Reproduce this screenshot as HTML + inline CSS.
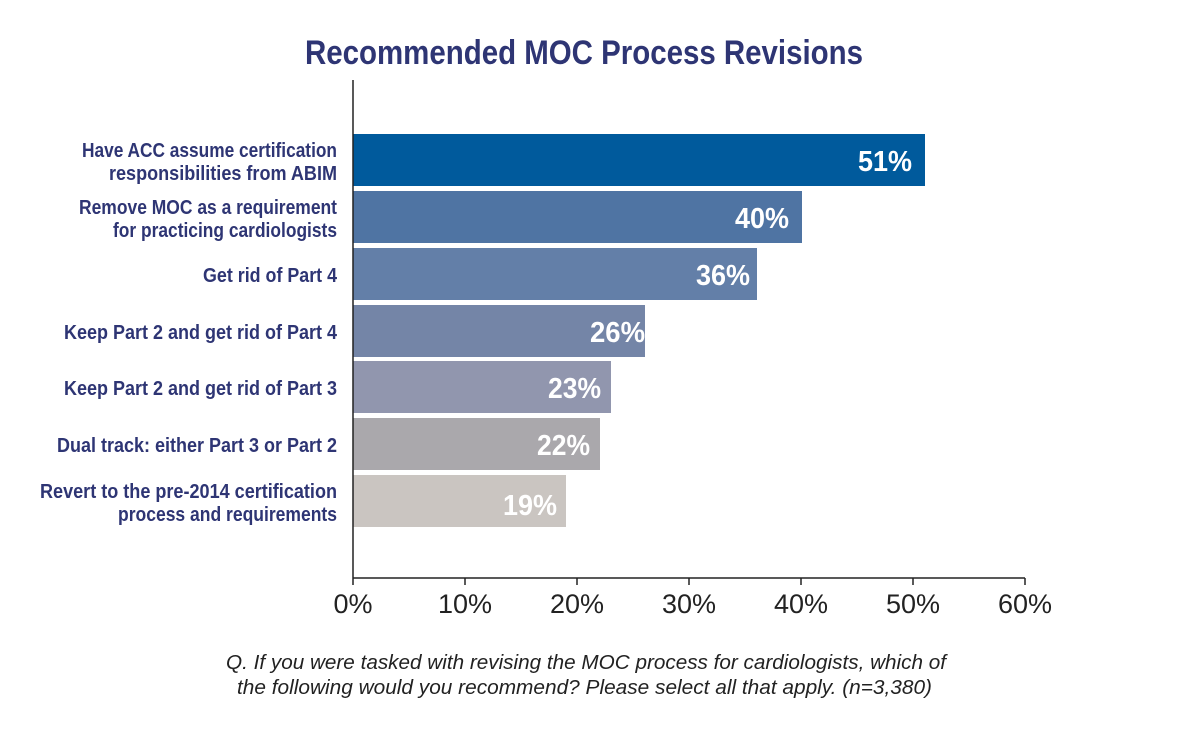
<!DOCTYPE html>
<html><head><style>
body{margin:0;background:#fff;}
svg{display:block;}
.n{font-family:"Liberation Sans",sans-serif;font-weight:bold;}
</style></head><body>
<svg width="1178" height="733" xmlns="http://www.w3.org/2000/svg">
<text class="n" x="305" y="64" font-size="34" fill="#2e3574" textLength="558" lengthAdjust="spacingAndGlyphs">Recommended MOC Process Revisions</text>
<g>
<rect x="353" y="134" width="572" height="52" fill="#005a9c"/>
<rect x="353" y="191" width="449" height="52" fill="#4f74a3"/>
<rect x="353" y="248" width="404" height="52" fill="#637fa8"/>
<rect x="353" y="305" width="292" height="52" fill="#7485a7"/>
<rect x="353" y="361" width="258" height="52" fill="#9196ae"/>
<rect x="353" y="418" width="247" height="52" fill="#aaa8ac"/>
<rect x="353" y="475" width="213" height="52" fill="#cac5c1"/>
</g>
<g class="n" font-size="29" fill="#fff">
<text x="858" y="171" textLength="54" lengthAdjust="spacingAndGlyphs">51%</text>
<text x="735" y="228" textLength="54" lengthAdjust="spacingAndGlyphs">40%</text>
<text x="696" y="285" textLength="54" lengthAdjust="spacingAndGlyphs">36%</text>
<text x="590" y="342" textLength="55" lengthAdjust="spacingAndGlyphs">26%</text>
<text x="548" y="398" textLength="53" lengthAdjust="spacingAndGlyphs">23%</text>
<text x="537" y="455" textLength="53" lengthAdjust="spacingAndGlyphs">22%</text>
<text x="503" y="515" textLength="54" lengthAdjust="spacingAndGlyphs">19%</text>
</g>
<g class="n" font-size="20" fill="#2e3574">
<text x="82" y="157" textLength="255" lengthAdjust="spacingAndGlyphs">Have ACC assume certification</text>
<text x="109" y="180" textLength="228" lengthAdjust="spacingAndGlyphs">responsibilities from ABIM</text>
<text x="79" y="214" textLength="258" lengthAdjust="spacingAndGlyphs">Remove MOC as a requirement</text>
<text x="113" y="237" textLength="224" lengthAdjust="spacingAndGlyphs">for practicing cardiologists</text>
<text x="203" y="282" textLength="134" lengthAdjust="spacingAndGlyphs">Get rid of Part 4</text>
<text x="64" y="339" textLength="273" lengthAdjust="spacingAndGlyphs">Keep Part 2 and get rid of Part 4</text>
<text x="64" y="395" textLength="273" lengthAdjust="spacingAndGlyphs">Keep Part 2 and get rid of Part 3</text>
<text x="57" y="452" textLength="280" lengthAdjust="spacingAndGlyphs">Dual track: either Part 3 or Part 2</text>
<text x="40" y="498" textLength="297" lengthAdjust="spacingAndGlyphs">Revert to the pre-2014 certification</text>
<text x="118" y="521" textLength="219" lengthAdjust="spacingAndGlyphs">process and requirements</text>
</g>
<g stroke="#222" stroke-width="1.5">
<line x1="353" y1="80" x2="353" y2="585"/>
<line x1="353" y1="578" x2="1025" y2="578"/>
<line x1="465" y1="578" x2="465" y2="585"/>
<line x1="577" y1="578" x2="577" y2="585"/>
<line x1="689" y1="578" x2="689" y2="585"/>
<line x1="801" y1="578" x2="801" y2="585"/>
<line x1="913" y1="578" x2="913" y2="585"/>
<line x1="1025" y1="578" x2="1025" y2="585"/>
</g>
<g font-family="Liberation Sans, sans-serif" font-size="27" fill="#222" text-anchor="middle">
<text x="353" y="613">0%</text>
<text x="465" y="613">10%</text>
<text x="577" y="613">20%</text>
<text x="689" y="613">30%</text>
<text x="801" y="613">40%</text>
<text x="913" y="613">50%</text>
<text x="1025" y="613">60%</text>
</g>
<g font-family="Liberation Sans, sans-serif" font-size="20" font-style="italic" fill="#222">
<text x="226" y="669" textLength="720" lengthAdjust="spacingAndGlyphs">Q. If you were tasked with revising the MOC process for cardiologists, which of</text>
<text x="237" y="694" textLength="695" lengthAdjust="spacingAndGlyphs">the following would you recommend? Please select all that apply. (n=3,380)</text>
</g>
</svg>
</body></html>
